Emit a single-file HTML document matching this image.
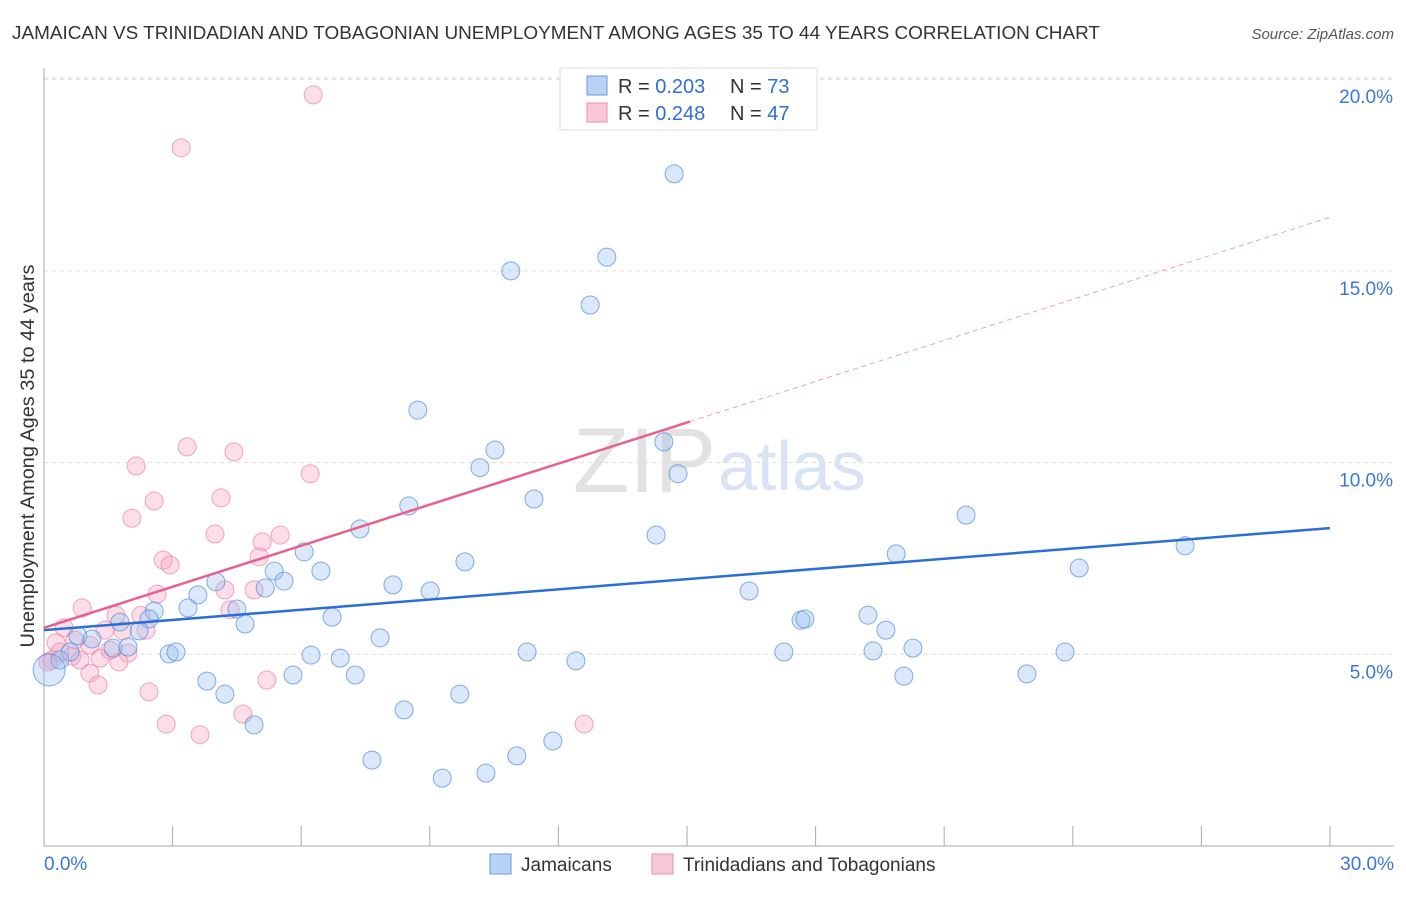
<!DOCTYPE html>
<html><head><meta charset="utf-8"><style>
body{margin:0;background:#fff;font-family:"Liberation Sans",sans-serif;}
svg text{font-family:"Liberation Sans",sans-serif;}
</style></head><body>
<svg id="c" width="1406" height="892">
<text x="12" y="39" font-size="18" fill="#333" textLength="1088" lengthAdjust="spacingAndGlyphs">JAMAICAN VS TRINIDADIAN AND TOBAGONIAN UNEMPLOYMENT AMONG AGES 35 TO 44 YEARS CORRELATION CHART</text>
<text x="1394" y="39" font-size="15" fill="#555" text-anchor="end" font-style="italic">Source: ZipAtlas.com</text>
<text x="0" y="0" transform="translate(34,456) rotate(-90)" font-size="19" fill="#333" text-anchor="middle" textLength="383" lengthAdjust="spacingAndGlyphs">Unemployment Among Ages 35 to 44 years</text>
<g id="grid"></g>
<text x="716" y="492" font-size="92" fill="#e2e2e2" text-anchor="end" font-family="Liberation Serif">ZIP</text>
<text x="718" y="490" font-size="70" fill="#d8e3f5">atlas</text>
<g id="pts"></g>
<g id="lines"></g>
<g>
<rect x="560" y="68" width="257" height="62" fill="#fff" stroke="#ddd"/>
<rect x="587" y="76" width="20" height="19" fill="#b8d3f5" stroke="#6a9be0"/>
<rect x="587" y="103" width="20" height="19" fill="#f9c8d7" stroke="#ec90ae"/>
<text x="618" y="93" font-size="20" fill="#333">R = <tspan fill="#2f6fd6">0.203</tspan></text>
<text x="730" y="93" font-size="20" fill="#333">N = <tspan fill="#2f6fd6">73</tspan></text>
<text x="618" y="120" font-size="20" fill="#333">R = <tspan fill="#2f6fd6">0.248</tspan></text>
<text x="730" y="120" font-size="20" fill="#333">N = <tspan fill="#2f6fd6">47</tspan></text>
</g>
<g>
<rect x="490" y="854" width="21" height="20" fill="#b8d3f5" stroke="#6a9be0"/>
<text x="521" y="871" font-size="19" fill="#333">Jamaicans</text>
<rect x="652" y="854" width="21" height="20" fill="#f9c8d7" stroke="#ec90ae"/>
<text x="683" y="871" font-size="19" fill="#333">Trinidadians and Tobagonians</text>
</g>
</svg>
<script>
const blueX=[14.70,13.13,10.89,12.74,8.72,10.52,14.46,10.17,14.79,11.43,8.51,7.37,14.28,21.51,26.62,19.88,24.15,6.07,9.82,6.46,5.37,5.60,5.16,4.01,8.14,9.01,16.45,3.59,4.50,3.36,2.57,6.72,19.22,17.66,17.75,2.45,1.77,4.69,19.64,2.22,0.79,1.12,7.84,1.61,1.96,20.27,2.92,3.08,6.23,6.91,11.27,17.26,19.34,23.82,12.41,0.61,0.37,5.81,7.26,3.80,20.06,22.93,4.22,9.70,8.40,4.90,11.87,11.03,7.65,10.31,9.29,0.12];
const blueY=[17.53,15.36,15.0,14.11,11.37,10.33,10.54,9.87,9.71,9.05,8.87,8.27,8.11,8.63,7.83,7.62,7.25,7.67,7.41,7.17,7.17,6.91,6.73,6.89,6.81,6.65,6.65,6.55,6.18,6.21,6.13,5.97,6.02,5.89,5.92,5.92,5.84,5.79,5.63,5.61,5.48,5.40,5.43,5.16,5.19,5.16,5.01,5.06,4.98,4.90,5.06,5.06,5.09,5.06,4.83,5.06,4.85,4.46,4.46,4.30,4.43,4.49,3.96,3.96,3.55,3.16,2.74,2.35,2.24,1.90,1.77,4.59];
const pinkX=[6.28,3.20,3.34,4.43,2.15,6.21,4.13,2.57,2.05,3.99,5.51,5.09,5.02,2.78,2.94,2.64,4.22,4.90,4.34,0.89,1.68,2.26,0.47,1.42,1.84,2.38,0.28,1.96,1.31,0.65,0.19,1.75,1.07,1.26,2.45,5.20,4.64,2.85,3.64,12.60,0.09,0.37,0.84,1.54,0.72,1.07];
const pinkY=[19.59,18.21,10.41,10.28,9.91,9.71,9.08,9.00,8.55,8.14,8.11,7.93,7.54,7.46,7.33,6.57,6.68,6.68,6.16,6.21,6.02,6.02,5.69,5.63,5.61,5.63,5.30,5.03,4.90,4.95,4.85,4.80,4.51,4.20,4.02,4.33,3.44,3.18,2.90,3.18,4.80,5.06,4.85,5.11,5.37,5.24];
const yTicks=[5,10,15,20];
const yTickLabels=["5.0%","10.0%","15.0%","20.0%"];
const blueFit=[5.63,0.0887];
const pinkFit=[5.69,0.357];
const NS='http://www.w3.org/2000/svg';
const sx=v=>44+v/30*1286, sy=v=>846-v/5*191.7;
function mk(t,a,p){const e=document.createElementNS(NS,t);for(const k in a)e.setAttribute(k,a[k]);p.appendChild(e);return e;}
const g=document.getElementById('grid');
yTicks.forEach((t,i)=>{
 const l=mk('line',{x1:44,x2:1394,y1:sy(t),y2:sy(t),stroke:'#ddd','stroke-dasharray':'4,4'},g);
 
 
 const tx=mk('text',{x:1393,y:sy(t)+24,'font-size':19,fill:'#3a78d8','text-anchor':'end'},g);
 tx.textContent=yTickLabels[i];
 
 
});
mk('line',{x1:44,x2:1394,y1:78,y2:78,stroke:'#ddd','stroke-dasharray':'4,4'},g);
const ax=mk('line',{x1:44,x2:44,y1:68,y2:846,stroke:'#aaa'},g);


const bx=mk('line',{x1:44,x2:1394,y1:846,y2:846,stroke:'#aaa'},g);


for(let i=0;i<=10;i++){mk('line',{x1:sx(i*3),x2:sx(i*3),y1:826,y2:846,stroke:'#aaa'},g);}
const x0=mk('text',{x:44,y:870,'font-size':19,fill:'#3a78d8'},g);x0.textContent='0.0%';


const x1=mk('text',{x:1394,y:870,'font-size':19,fill:'#3a78d8','text-anchor':'end'},g);x1.textContent='30.0%';


const P=document.getElementById('pts');
pinkX.forEach((x,i)=>{const c=mk('circle',{cx:sx(x),cy:sy(pinkY[i]),r:9,fill:'rgba(245,160,190,0.35)',stroke:'rgba(236,130,165,0.7)'},P);
 
 });
blueX.forEach((x,i)=>{const c=mk('circle',{cx:sx(x),cy:sy(blueY[i]),r:i==blueX.length-1?16:9,fill:'rgba(150,190,240,0.35)',stroke:'rgba(80,140,220,0.7)'},P);
 
 });
const L=document.getElementById('lines');
const bl=mk('line',{x1:sx(0),y1:sy(blueFit[0]),x2:sx(30),y2:sy(blueFit[0]+30*blueFit[1]),stroke:'#2b6fd6','stroke-width':2.5},L);


const pe=15.07;
const pl=mk('line',{x1:sx(0),y1:sy(pinkFit[0]),x2:sx(pe),y2:sy(pinkFit[0]+pe*pinkFit[1]),stroke:'#e8608e','stroke-width':2.5},L);


const pd=mk('line',{x1:sx(pe),y1:sy(pinkFit[0]+pe*pinkFit[1]),x2:sx(30),y2:sy(pinkFit[0]+30*pinkFit[1]),stroke:'#eea0b8','stroke-width':1,'stroke-dasharray':'5,4'},L);


</script>
</body></html>
